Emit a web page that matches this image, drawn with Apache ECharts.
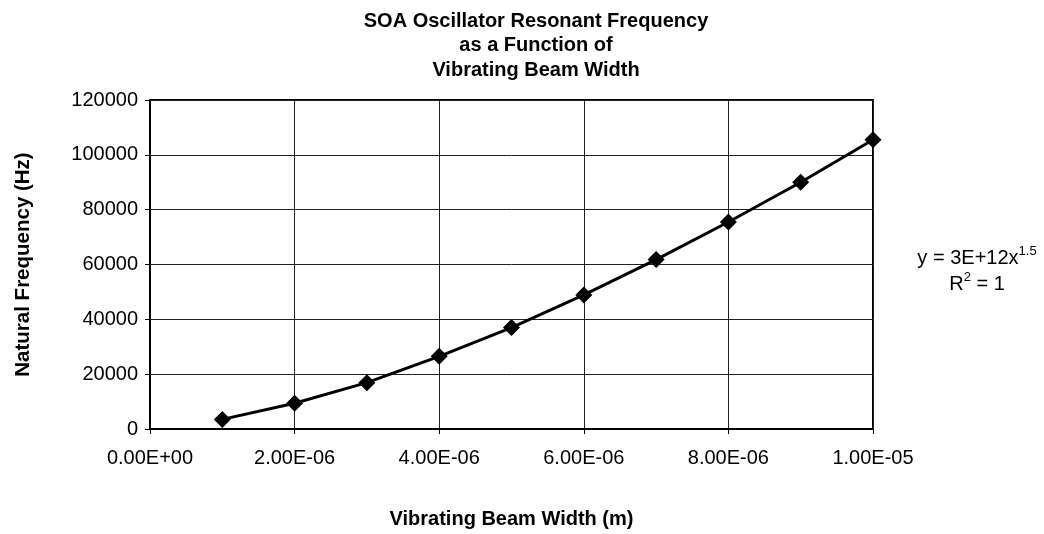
<!DOCTYPE html>
<html>
<head>
<meta charset="utf-8">
<script src="https://cdn.jsdelivr.net/npm/echarts@6/dist/echarts.min.js"></script>
<style>
html,body{margin:0;padding:0;background:#fff;}
#chart{width:1044px;height:534px;}
</style>
</head>
<body>
<div id="chart"></div>
<script>
var beamWidth = [1e-6, 2e-6, 3e-6, 4e-6, 5e-6, 6e-6, 7e-6, 8e-6, 9e-6, 1e-5];
var naturalFreq = [3500, 9400, 16900, 26500, 37000, 48900, 61800, 75500, 90000, 105500];
var xTickLabels = ['0.00E+00', '2.00E-06', '4.00E-06', '6.00E-06', '8.00E-06', '1.00E-05'];
var titleLines = ['SOA Oscillator Resonant Frequency', 'as a Function of', 'Vibrating Beam Width'];

var chart = echarts.init(document.getElementById('chart'));
var FONT = 'Liberation Sans, Arial, sans-serif';
var pts = beamWidth.map(function (x, i) { return [x, naturalFreq[i]]; });

chart.setOption({
  backgroundColor: '#fff',
  animation: false,
  title: {
    text: titleLines.join('\n'),
    left: 531, top: 4, textAlign: 'center',
    textStyle: { fontFamily: FONT, fontSize: 20, fontWeight: 'bold', color: '#000', lineHeight: 24.5 }
  },
  grid: { left: 150, right: 171, top: 100, bottom: 105, show: true, borderColor: '#000', borderWidth: 2 },
  xAxis: {
    type: 'value', min: 0, max: 1e-5, interval: 2e-6,
    name: 'Vibrating Beam Width (m)', nameLocation: 'middle', nameGap: 80,
    nameTextStyle: { fontFamily: FONT, fontSize: 20, fontWeight: 'bold', color: '#000' },
    axisLine: { show: true, lineStyle: { color: '#000', width: 2 } },
    axisTick: { show: true, length: 5, lineStyle: { color: '#000' } },
    axisLabel: {
      fontFamily: FONT, fontSize: 20, color: '#000', margin: 19,
      formatter: function (v) { return xTickLabels[Math.round(v / 2e-6)]; }
    },
    splitLine: { show: true, lineStyle: { color: '#222', width: 1 } }
  },
  yAxis: {
    type: 'value', min: 0, max: 120000, interval: 20000,
    name: 'Natural Frequency (Hz)', nameLocation: 'middle', nameGap: 116, nameRotate: 90,
    nameTextStyle: { fontFamily: FONT, fontSize: 20.5, fontWeight: 'bold', color: '#000' },
    axisLine: { show: true, lineStyle: { color: '#000', width: 2 } },
    axisTick: { show: true, length: 5, lineStyle: { color: '#000' } },
    axisLabel: {
      fontFamily: FONT, fontSize: 20, color: '#000', margin: 12,
      formatter: function (v) { return String(v); }
    },
    splitLine: { show: true, lineStyle: { color: '#222', width: 1 } }
  },
  graphic: [{
    type: 'text', x: 977, y: 245,
    style: {
      text: '{a|y = 3E+12x}{s|1.5}\n{a|R}{s|2}{a| = 1}',
      align: 'center',
      rich: {
        a: { fontFamily: FONT, fontSize: 20, fill: '#000', lineHeight: 26 },
        s: { fontFamily: FONT, fontSize: 13, fill: '#000', verticalAlign: 'top', lineHeight: 26, padding: [0, 0, 10, 0] }
      }
    }
  }],
  series: [{
    type: 'line', data: pts, smooth: false,
    symbol: 'diamond', symbolSize: 17,
    lineStyle: { color: '#000', width: 3 },
    itemStyle: { color: '#000' }
  }]
});
</script>
</body>
</html>
